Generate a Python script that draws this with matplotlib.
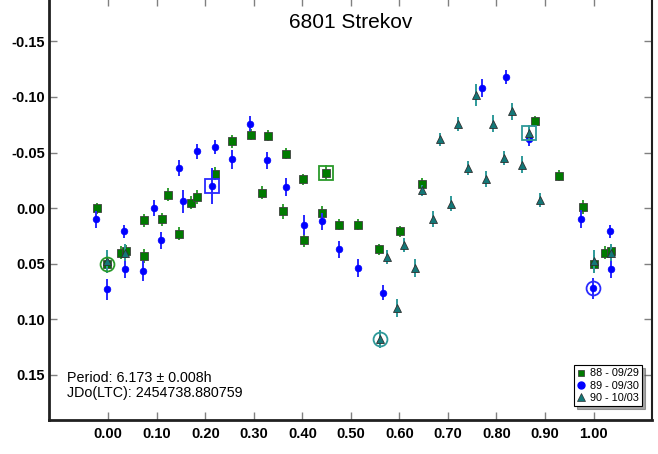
import numpy as np
import matplotlib.pyplot as plt
from matplotlib.lines import Line2D

plt.rcParams['font.family'] = ['Liberation Sans', 'DejaVu Sans']
plt.rcParams['axes.unicode_minus'] = False

# session 88 - 09/29
ph88 = [-0.023, 0.026, 0.036, -0.002, 0.074, 0.074, 0.110, 0.124, 0.146, 0.171,
        0.182, 0.220, 0.256, 0.294, 0.330, 0.316, 0.366, 0.361, 0.402, 0.404,
        0.440, 0.449, 0.476, 0.514, 0.557, 0.601, 0.647, 0.880, 0.929, 0.979,
        1.000, 1.024, 1.036]
mag88 = [0.000, 0.040, 0.039, 0.050, 0.011, 0.043, 0.010, -0.012, 0.023, -0.005,
         -0.010, -0.031, -0.060, -0.066, -0.065, -0.014, -0.049, 0.003, -0.026, 0.029,
         0.004, -0.032, 0.015, 0.015, 0.037, 0.021, -0.022, -0.078, -0.029, -0.001,
         0.050, 0.040, 0.039]
err88 = [0.005, 0.006, 0.006, 0.008, 0.006, 0.006, 0.006, 0.006, 0.006, 0.006,
         0.006, 0.006, 0.006, 0.005, 0.005, 0.006, 0.005, 0.007, 0.005, 0.006,
         0.006, 0.0065, 0.005, 0.005, 0.005, 0.005, 0.005, 0.005, 0.005, 0.006,
         0.008, 0.006, 0.006]

# session 89 - 09/30
ph89 = [-0.026, -0.002, 0.033, 0.034, 0.072, 0.094, 0.109, 0.146, 0.155, 0.182,
        0.214, 0.219, 0.255, 0.292, 0.328, 0.366, 0.403, 0.440, 0.476, 0.515,
        0.567, 0.771, 0.819, 0.868, 0.975, 0.999, 1.034, 1.036]
mag89 = [0.010, 0.073, 0.021, 0.055, 0.057, 0.000, 0.029, -0.036, -0.006, -0.051,
         -0.020, -0.055, -0.044, -0.076, -0.043, -0.019, 0.015, 0.012, 0.037, 0.054,
         0.076, -0.108, -0.118, -0.062, 0.010, 0.072, 0.021, 0.055]
err89 = [0.0075, 0.0095, 0.006, 0.008, 0.009, 0.0075, 0.0076, 0.007, 0.0105, 0.0065,
         0.016, 0.0067, 0.0087, 0.0066, 0.0075, 0.008, 0.009, 0.0075, 0.0075, 0.008,
         0.0066, 0.0078, 0.006, 0.006, 0.008, 0.0095, 0.006, 0.008]

# session 90 - 10/03
ph90 = [-0.002, 0.034, 0.560, 0.574, 0.596, 0.610, 0.633, 0.647, 0.670, 0.706,
        0.684, 0.720, 0.742, 0.757, 0.779, 0.793, 0.816, 0.831, 0.852, 0.867,
        0.889, 1.000, 1.037]
mag90 = [0.048, 0.040, 0.118, 0.044, 0.090, 0.033, 0.054, -0.016, 0.010, -0.004,
         -0.062, -0.076, -0.036, -0.102, -0.026, -0.076, -0.045, -0.087, -0.039, -0.068,
         -0.007, 0.048, 0.040]
err90 = [0.010, 0.008, 0.008, 0.006, 0.008, 0.0065, 0.008, 0.005, 0.007, 0.007,
         0.006, 0.0063, 0.0066, 0.0097, 0.007, 0.0078, 0.006, 0.0075, 0.0078, 0.007,
         0.0063, 0.010, 0.008]

# open circles / squares marking special points (phase, mag)
circ88 = (-0.002, 0.050)
box88 = (0.449, -0.032)
box89 = (0.214, -0.020)
circ89 = (0.999, 0.072)
circ90 = (0.560, 0.118)
box90 = (0.867, -0.068)

c88, e88 = '#007a00', '#33a033'
c89, e89 = '#0000ff', '#2828ff'
c90, e90 = '#137878', '#2e9999'

fig = plt.figure(figsize=(6.58, 4.54), dpi=100)
ax = fig.add_axes([0.0745, 0.0749, 0.916, 0.9295])

ax.errorbar(ph88, mag88, yerr=err88, fmt='s', ms=5.8, color=c88, ecolor=e88,
            mec='#404040', mew=0.6, elinewidth=1.4, capsize=0, zorder=3)
ax.errorbar(ph89, mag89, yerr=err89, fmt='o', ms=4.8, color=c89, ecolor=e89,
            mec=c89, mew=0.5, elinewidth=1.4, capsize=0, zorder=4)
ax.errorbar(ph90, mag90, yerr=err90, fmt='^', ms=5.8, color=c90, ecolor=e90,
            mec='#303030', mew=0.6, elinewidth=1.4, capsize=0, zorder=5)

ax.plot(*circ88, 'o', ms=10, mfc='none', mec='#2a9a2a', mew=1.3, zorder=6)
ax.plot(*box88, 's', ms=9.5, mfc='none', mec='#2a9a2a', mew=1.3, zorder=6)
ax.plot(*box89, 's', ms=10, mfc='none', mec='#2a2aff', mew=1.3, zorder=6)
ax.plot(*circ89, 'o', ms=10, mfc='none', mec='#2a2aff', mew=1.3, zorder=6)
ax.plot(*circ90, 'o', ms=10, mfc='none', mec='#2e9999', mew=1.3, zorder=6)
ax.plot(*box90, 's', ms=9.5, mfc='none', mec='#2e9999', mew=1.3, zorder=6)

ax.set_xlim(-0.122, 1.12)
ax.set_ylim(0.1906, -0.189)
ax.set_xticks(np.arange(0, 1.01, 0.1))
ax.set_yticks([-0.15, -0.10, -0.05, 0.00, 0.05, 0.10, 0.15])
ax.xaxis.set_major_formatter(plt.FormatStrFormatter('%.2f'))
ax.yaxis.set_major_formatter(plt.FormatStrFormatter('%.2f'))
ax.tick_params(direction='in', length=6, width=1, color='#808080',
               top=True, right=True, labelsize=10.5)
ax.tick_params(axis='x', pad=5)
ax.tick_params(axis='y', pad=3)
for lab in ax.get_xticklabels() + ax.get_yticklabels():
    lab.set_fontweight('bold')
for s in ['left', 'bottom']:
    ax.spines[s].set_linewidth(2)
    ax.spines[s].set_color('#202020')
ax.spines['right'].set_linewidth(1.5)
ax.spines['right'].set_color('#202020')
ax.spines['top'].set_visible(False)

ax.text(0.5, 0.93, '6801 Strekov', transform=ax.transAxes, ha='center',
        va='baseline', fontsize=15)
ax.text(0.0292, 0.047, 'Period: 6.173 \u00b1 0.008h\nJDo(LTC): 2454738.880759',
        transform=ax.transAxes, ha='left', va='bottom', fontsize=10.3,
        linespacing=1.1)

handles = [Line2D([], [], ls='none', marker='s', ms=5, color=c88, mec='#303030', mew=0.5),
           Line2D([], [], ls='none', marker='o', ms=5, color=c89),
           Line2D([], [], ls='none', marker='^', ms=5.5, color=c90, mec='#303030', mew=0.5)]
leg = ax.legend(handles, ['88 - 09/29', '89 - 09/30', '90 - 10/03'],
                loc='lower right', bbox_to_anchor=(0.984, 0.033), borderaxespad=0,
                fontsize=7.8, fancybox=False, shadow=True, framealpha=1,
                edgecolor='black', handlelength=0.8, handletextpad=0.4,
                borderpad=0.3, labelspacing=0.2)
leg.get_frame().set_linewidth(0.8)

fig.savefig('out.png', dpi=100)
